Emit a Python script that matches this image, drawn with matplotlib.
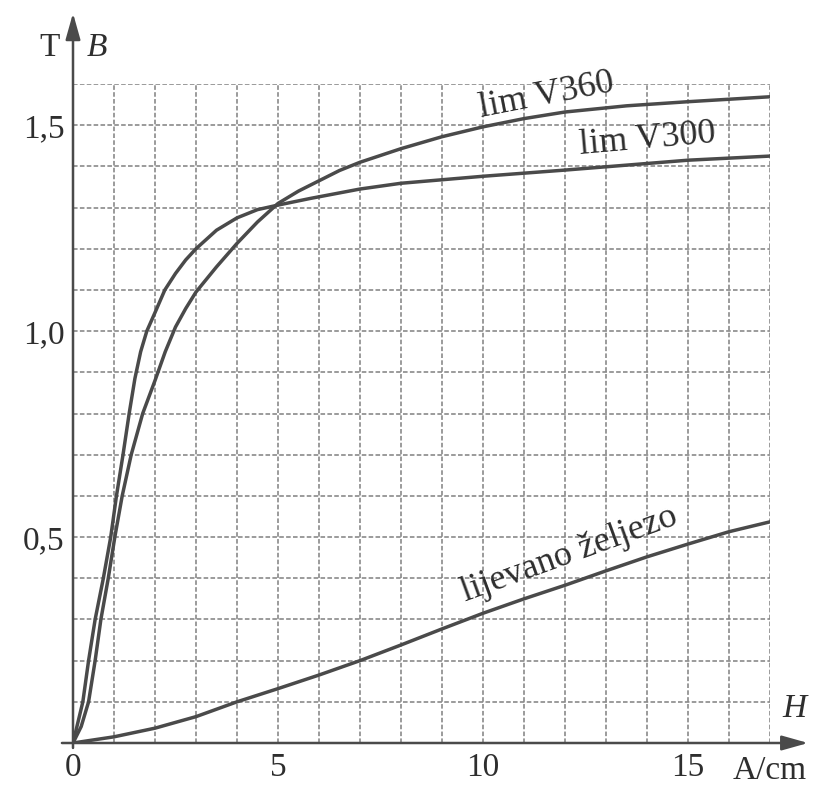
import matplotlib
matplotlib.use('Agg')
import matplotlib.pyplot as plt

# ---- data (H in A/cm, B in T) ----
H_v360 = [0, 0.2, 0.38, 0.54, 0.68, 0.86, 1.02, 1.20, 1.42, 1.70, 2.0, 2.25, 2.5, 2.75, 3.0, 3.5, 4.0, 4.5, 5.0, 5.5,
          6.0, 6.5, 7.0, 8.0, 9.0, 10.0, 11.0, 12.0, 13.5, 15.0, 17.0]
B_v360 = [0, 0.04, 0.10, 0.20, 0.30, 0.40, 0.50, 0.60, 0.70, 0.80, 0.88, 0.95, 1.01, 1.055, 1.095, 1.156, 1.213, 1.265, 1.31, 1.34,
          1.365, 1.39, 1.41, 1.443, 1.472, 1.496, 1.516, 1.532, 1.547, 1.557, 1.569]

H_v300 = [0, 0.12, 0.24, 0.38, 0.54, 0.74, 0.92, 1.06, 1.22, 1.37, 1.51, 1.65, 1.80, 2.0, 2.24, 2.5, 2.75, 3.0, 3.5, 4.0,
          4.5, 5.0, 5.78, 7.0, 8.0, 10.0, 12.0, 15.0, 17.0]
B_v300 = [0, 0.05, 0.10, 0.20, 0.30, 0.40, 0.50, 0.60, 0.70, 0.80, 0.885, 0.95, 1.00, 1.045, 1.10, 1.14, 1.173, 1.20, 1.245, 1.275,
          1.295, 1.306, 1.322, 1.345, 1.359, 1.376, 1.391, 1.415, 1.425]

H_iron = [0, 1, 2, 3, 4, 5, 6, 7, 8, 9, 10, 11, 12, 13, 14, 15, 16, 17]
B_iron = [0, 0.015, 0.036, 0.064, 0.10, 0.132, 0.165, 0.20, 0.238, 0.277, 0.315, 0.35, 0.383, 0.418, 0.452, 0.483, 0.513, 0.537]

x_ticks = [0, 5, 10, 15]
x_ticklabels = ['0', '5', '10', '15']
y_ticks = [0.5, 1.0, 1.5]
y_ticklabels = ['0,5', '1,0', '1,5']

plt.rcParams['font.family'] = ['Liberation Serif', 'DejaVu Serif']

fig = plt.figure(figsize=(8.16, 7.89), dpi=100)
ax = fig.add_axes([73 / 816, 46 / 789, 697 / 816, 659 / 789])
ax.set_xlim(0, 17)
ax.set_ylim(0, 1.6)
for s in ax.spines.values():
    s.set_visible(False)

grid_kw = dict(color='#808080', lw=1.1, ls=(0, (3, 1.5)), zorder=1)
for h in range(1, 18):
    ax.axvline(h, **grid_kw)
for i in range(1, 17):
    ax.axhline(i / 10, **grid_kw)

curve_kw = dict(color='#4a4a4a', lw=2.5, solid_capstyle='round', solid_joinstyle='round', zorder=3)
ax.plot(H_v360, B_v360, **curve_kw)
ax.plot(H_v300, B_v300, **curve_kw)
ax.plot(H_iron, B_iron, **curve_kw)

# axes with arrows
arrow_kw = dict(arrowstyle='-|>,head_length=1.6,head_width=0.45', color='#4a4a4a',
                lw=1.8, mutation_scale=10, shrinkA=0, shrinkB=0)
ax.annotate('', xy=(17.93, 0), xytext=(-0.27, 0), arrowprops=arrow_kw,
            annotation_clip=False, zorder=4)
ax.annotate('', xy=(0, 1.772), xytext=(0, -0.012), arrowprops=arrow_kw,
            annotation_clip=False, zorder=4)

ax.set_xticks(x_ticks)
ax.set_xticklabels(x_ticklabels)
ax.set_yticks(y_ticks)
ax.set_yticklabels(y_ticklabels)
ax.tick_params(axis='both', length=0, labelsize=24, colors='#2e2e2e')
ax.tick_params(axis='x', pad=7)
ax.tick_params(axis='y', pad=6)

txt = dict(fontsize=24, color='#2e2e2e', ha='center', va='center')
ax.text(-0.56, 1.688, 'T', **txt, clip_on=False)
ax.text(0.59, 1.688, 'B', style='italic', **txt, clip_on=False)
ax.text(17.6, 0.083, 'H', style='italic', **txt, clip_on=False)
ax.text(17.0, -0.068, 'A/cm', **txt, clip_on=False)

lab = dict(fontsize=26, color='#2e2e2e', ha='center', va='center', rotation_mode='anchor', zorder=5)
ax.text(11.56, 1.572, 'lim V360', rotation=11, **lab)
ax.text(14.0, 1.466, 'lim V300', rotation=5, **lab)
ax.text(12.1, 0.457, 'lijevano željezo', rotation=20, **lab)

fig.savefig('out.png', dpi=100, facecolor='white')
